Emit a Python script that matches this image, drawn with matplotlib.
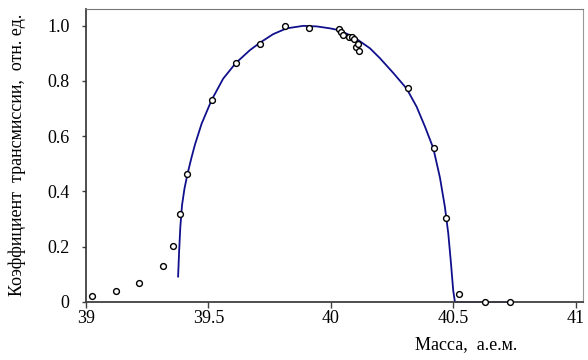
import numpy as np
import matplotlib
matplotlib.use("Agg")
import matplotlib.pyplot as plt

# измеренные точки
mass_pts = [39.023, 39.121, 39.216, 39.316, 39.354, 39.384, 39.414, 39.513,
            39.611, 39.710, 39.811, 39.910, 40.031, 40.039, 40.050, 40.073,
            40.084, 40.094, 40.102, 40.111, 40.113, 40.314, 40.420, 40.468,
            40.524, 40.629, 40.732]
trans_pts = [0.022, 0.039, 0.068, 0.130, 0.202, 0.318, 0.462, 0.731,
             0.864, 0.935, 1.000, 0.992, 0.987, 0.976, 0.967, 0.960,
             0.957, 0.953, 0.923, 0.932, 0.907, 0.775, 0.557, 0.304,
             0.028, 0.0, 0.0]

# расчётная кривая
mass_fit = [39.376, 39.380, 39.385, 39.392, 39.402, 39.414, 39.430, 39.445,
            39.472, 39.513, 39.560, 39.611, 39.669, 39.710, 39.764, 39.819,
            39.887, 39.942, 39.996, 40.030, 40.091, 40.159, 40.200, 40.254,
            40.309, 40.350, 40.384, 40.418, 40.445, 40.465, 40.479, 40.490,
            40.499, 40.506, 40.731]
trans_fit = [0.092, 0.180, 0.270, 0.350, 0.410, 0.462, 0.520, 0.570,
             0.645, 0.731, 0.808, 0.864, 0.911, 0.938, 0.969, 0.990,
             0.999, 0.997, 0.990, 0.984, 0.960, 0.918, 0.882, 0.829,
             0.772, 0.706, 0.634, 0.556, 0.450, 0.345, 0.248, 0.140,
             0.043, 0.0, 0.0]

xticks = [39, 39.5, 40, 40.5, 41]
xtick_labels = ["39", "39.5", "40", "40.5", "41"]
yticks = [0, 0.2, 0.4, 0.6, 0.8, 1.0]
ytick_labels = ["0", "0.2", "0.4", "0.6", "0.8", "1.0"]


def main():
    plt.rcParams['font.family'] = ['Liberation Serif', 'DejaVu Serif']

    fig = plt.figure(figsize=(5.88, 3.6), dpi=100)
    ax = fig.add_axes([86 / 588, 1 - 302 / 360, (583 - 86) / 588, (302 - 9) / 360])

    ax.plot(mass_fit, trans_fit, color='#10108c', lw=1.3, zorder=2,
            clip_on=False, solid_joinstyle='round')
    ax.plot(mass_pts, trans_pts, 'o', ms=4.2, mfc='white', mec='black',
            mew=1.0, zorder=3, clip_on=False)

    ax.set_xlim(39, 41.029)
    ax.set_ylim(0, 1.06)
    ax.set_xticks(xticks)
    ax.set_xticklabels(xtick_labels)
    ax.set_yticks(yticks)
    ax.set_yticklabels(ytick_labels)

    ax.tick_params(axis='x', direction='out', length=4, width=1,
                   color='#404040', labelsize=13, pad=2)
    ax.tick_params(axis='y', direction='out', length=3, width=1,
                   color='#404040', labelsize=13, pad=9)

    ax.spines['left'].set_color('#303030')
    ax.spines['bottom'].set_color('#404040')
    ax.spines['bottom'].set_linewidth(1.3)
    ax.spines['left'].set_linewidth(1.2)
    ax.spines['top'].set_color('#777777')
    ax.spines['right'].set_color('#999999')

    fig.text(466 / 588, 1 - 345 / 360, "Масса,  а.е.м.", ha='center',
             va='center', fontsize=13)
    fig.text(17 / 588, 1 - 155 / 360, "Коэффициент  трансмиссии,  отн. ед.",
             ha='center', va='center', rotation=90, fontsize=13)

    plt.savefig('out.png', dpi=100)


if __name__ == '__main__':
    main()
